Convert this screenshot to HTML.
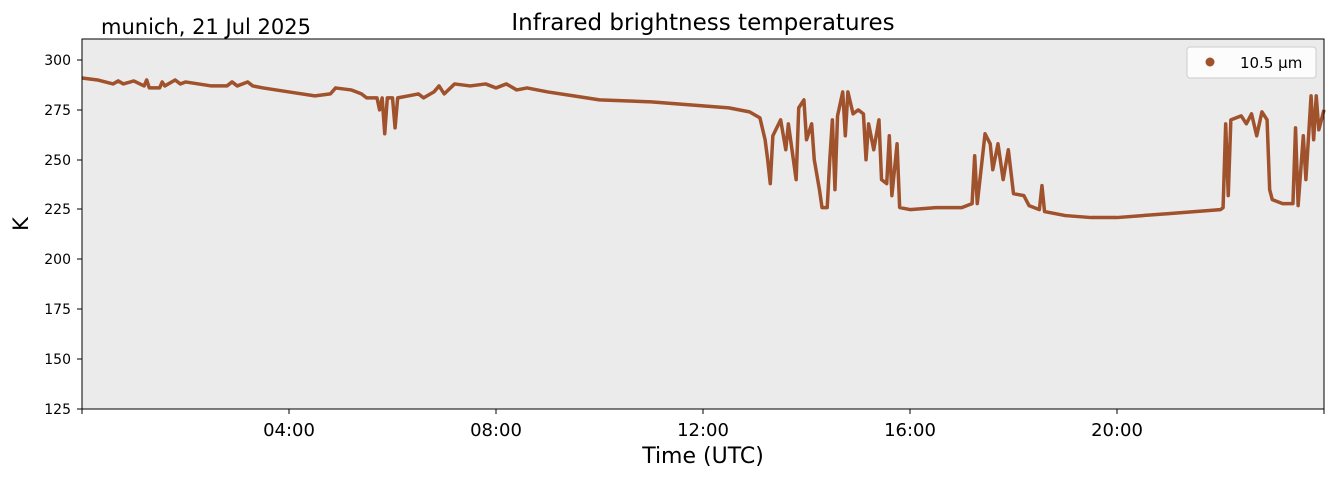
<!DOCTYPE html>
<html><head><meta charset="utf-8"><style>
body{margin:0;background:#fff;}
svg{display:block;font-family:"DejaVu Sans","Liberation Sans",sans-serif;}
</style></head><body>
<svg width="1335" height="478" xmlns="http://www.w3.org/2000/svg">
<rect x="82" y="39" width="1242" height="370" fill="#ebebeb"/>
<g transform="translate(82,658.3) scale(51.75,-1.9943)">
<polyline fill="none" stroke="#a0522d" stroke-width="3.5" vector-effect="non-scaling-stroke" stroke-linejoin="round" points="0,291 0.3,290 0.6,288 0.7,289.5 0.8,288 1,289.5 1.2,287 1.25,290 1.3,286 1.5,286 1.55,289 1.6,287 1.8,290 1.9,288 2,289 2.5,287 2.8,287 2.9,289 3,287 3.2,289 3.3,287 3.5,286 4,284 4.5,282 4.8,283 4.9,286 5.2,285 5.4,283 5.5,281 5.7,281 5.75,275 5.8,281 5.85,263 5.9,281 6,281 6.05,266 6.1,281 6.3,282 6.5,283 6.6,281 6.8,284 6.9,287 7,283 7.2,288 7.5,287 7.8,288 8,286 8.2,288 8.4,285 8.6,286 9,284 9.5,282 10,280 11,279 12,277 12.5,276 12.9,274 13.1,271 13.2,260 13.25,250 13.3,238 13.35,262 13.5,270 13.6,255 13.65,268 13.8,240 13.85,276 13.95,280 14,260 14.1,268 14.15,250 14.25,235 14.3,226 14.4,226 14.45,250 14.5,270 14.55,235 14.6,272 14.7,284 14.75,262 14.8,284 14.9,273 15,275 15.1,273 15.15,250 15.2,268 15.3,255 15.4,270 15.45,240 15.55,238 15.6,262 15.65,232 15.75,258 15.8,226 16,225 16.5,226 17,226 17.2,228 17.25,252 17.3,228 17.45,263 17.55,258 17.6,245 17.7,258 17.8,240 17.9,255 18,233 18.2,232 18.3,227 18.5,225 18.55,237 18.6,224 19,222 19.5,221 20,221 21,223 22,225 22.05,226 22.1,268 22.15,232 22.2,270 22.4,272 22.5,268 22.6,273 22.7,262 22.8,274 22.9,270 22.95,235 23,230 23.2,228 23.4,228 23.45,266 23.5,227 23.6,262 23.65,240 23.75,282 23.8,260 23.85,282 23.9,265 24,275"/>
</g>
<rect x="82" y="39" width="1242" height="370" fill="none" stroke="#000" stroke-width="1"/>
<g font-size="14" text-anchor="end" fill="#000">
<text x="71" y="65">300</text><line x1="77" x2="82" y1="60" y2="60" stroke="#000"/>
<text x="71" y="115">275</text><line x1="77" x2="82" y1="110" y2="110" stroke="#000"/>
<text x="71" y="165">250</text><line x1="77" x2="82" y1="160" y2="160" stroke="#000"/>
<text x="71" y="214">225</text><line x1="77" x2="82" y1="209" y2="209" stroke="#000"/>
<text x="71" y="264">200</text><line x1="77" x2="82" y1="259" y2="259" stroke="#000"/>
<text x="71" y="314">175</text><line x1="77" x2="82" y1="309" y2="309" stroke="#000"/>
<text x="71" y="364">150</text><line x1="77" x2="82" y1="359" y2="359" stroke="#000"/>
<text x="71" y="414">125</text><line x1="77" x2="82" y1="409" y2="409" stroke="#000"/>
</g>
<g font-size="18" text-anchor="middle" fill="#000">
<line x1="82" x2="82" y1="409" y2="414" stroke="#000"/>
<line x1="289" x2="289" y1="409" y2="414" stroke="#000"/><text x="289" y="436">04:00</text>
<line x1="496" x2="496" y1="409" y2="414" stroke="#000"/><text x="496" y="436">08:00</text>
<line x1="703" x2="703" y1="409" y2="414" stroke="#000"/><text x="703" y="436">12:00</text>
<line x1="910" x2="910" y1="409" y2="414" stroke="#000"/><text x="910" y="436">16:00</text>
<line x1="1117" x2="1117" y1="409" y2="414" stroke="#000"/><text x="1117" y="436">20:00</text>
<line x1="1324" x2="1324" y1="409" y2="414" stroke="#000"/>
<text x="703" y="463" font-size="22">Time (UTC)</text>
<text x="703" y="30" font-size="23">Infrared brightness temperatures</text>
</g>
<text x="101" y="34" font-size="21">munich, 21 Jul 2025</text>
<text x="28" y="224" font-size="21" text-anchor="middle" transform="rotate(-90 28 224)">K</text>
<rect x="1187" y="47" width="129" height="31" rx="3" fill="#fff" fill-opacity="0.85" stroke="#ccc"/>
<circle cx="1210" cy="62" r="4.5" fill="#a0522d"/>
<text x="1240" y="68" font-size="15">10.5 µm</text>
</svg>
</body></html>
